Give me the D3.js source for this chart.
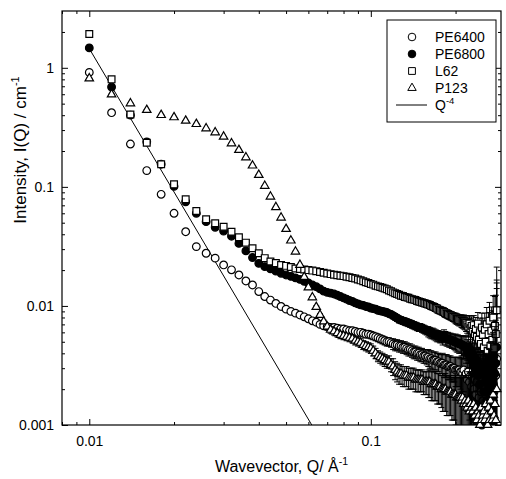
<!DOCTYPE html>
<html>
<head>
<meta charset="utf-8">
<script src="https://cdn.jsdelivr.net/npm/d3@7"></script>
<style>
body{margin:0;background:#fff;}
svg text{font-family:"Liberation Sans", Arial, sans-serif;}
</style>
</head>
<body>
<div id="main"></div>
<script>
const W = 506;
const H = 479;

// wavevector grid, Å^-1 (same for every sample)
var qVals = [
 0.010,0.012,0.014,0.016,0.018,0.020,0.022,0.024,0.026,0.028,
 0.030,0.032,0.034,0.036,0.038,0.040,0.042,0.044,0.046,0.048,
 0.050,0.052,0.054,0.056,0.058,0.060,0.062,0.064,0.066,0.068,
 0.070,0.072,0.074,0.076,0.078,0.080,0.082,0.084,0.086,0.088,
 0.090,0.092,0.094,0.096,0.098,0.100,0.102,0.104,0.106,0.108,
 0.110,0.112,0.114,0.116,0.118,0.120,0.122,0.124,0.126,0.128,
 0.130,0.132,0.134,0.136,0.138,0.140,0.142,0.144,0.146,0.148,
 0.150,0.152,0.154,0.156,0.158,0.160,0.162,0.164,0.166,0.168,
 0.170,0.172,0.174,0.176,0.178,0.180,0.182,0.184,0.186,0.188,
 0.190,0.192,0.194,0.196,0.198,0.200,0.202,0.204,0.206,0.208,
 0.210,0.212,0.214,0.216,0.218,0.220,0.222,0.224,0.226,0.228,
 0.230,0.232,0.234,0.236,0.238,0.240,0.242,0.244,0.246,0.248,
 0.250,0.252,0.254,0.256,0.258,0.260,0.262,0.264,0.266,0.268,
 0.270,0.272,0.274,0.276,0.278,0.280
];

// intensities, cm^-1
var pe6400 = [
 0.915,0.42,0.229,0.137,0.0866,0.060,0.042,0.0315,0.0277,0.0252,
 0.0221,0.0201,0.0182,0.0162,0.0150,0.0132,0.0120,0.0112,0.0105,0.0099,
 0.0094,0.0090,0.0087,0.0084,0.0081,0.0078,0.0075,0.0073,0.0070,0.0068,
 0.0067,0.0066,0.0066,0.0065,0.0064,0.0064,0.0063,0.0062,0.0062,0.0061,
 0.0060,0.0060,0.0059,0.0058,0.0058,0.0057,0.0056,0.0055,0.0054,0.0053,
 0.0052,0.0051,0.0050,0.0050,0.0049,0.0048,0.0047,0.0047,0.0046,0.0046,
 0.0045,0.0045,0.0044,0.0043,0.0043,0.0042,0.0041,0.0041,0.0040,0.0040,
 0.0039,0.0039,0.0038,0.0038,0.0037,0.0037,0.0036,0.0036,0.0035,0.0035,
 0.0035,0.0034,0.0034,0.0033,0.0033,0.0033,0.0032,0.0032,0.0032,0.0031,
 0.0031,0.0031,0.0030,0.0030,0.0030,0.0029,0.0029,0.0029,0.0029,0.0028,
 0.0028,0.0027,0.0029,0.0026,0.0027,0.0024,0.0028,0.0023,0.0026,0.0021,
 0.0025,0.0020,0.0024,0.0018,0.0023,0.0027,0.0017,0.0022,0.0019,0.0025,
 0.0016,0.0021,0.0026,0.0018,0.0023,0.0015,0.0028,0.0020,0.0024,0.0017,
 0.0030,0.0022,0.0019,0.0033,0.0026,0.0036
];

var pe6800 = [
 1.47,0.69,0.40,0.239,0.155,0.101,0.075,0.060,0.051,0.0458,
 0.0425,0.0385,0.0335,0.0290,0.0255,0.0228,0.0214,0.0205,0.0196,0.0188,
 0.0182,0.0177,0.0172,0.0167,0.0161,0.0156,0.0150,0.0145,0.0139,0.0133,
 0.0130,0.0128,0.0126,0.0123,0.0120,0.0117,0.0114,0.0111,0.0109,0.0106,
 0.0104,0.0102,0.0101,0.0099,0.0098,0.0096,0.0095,0.0094,0.0092,0.0091,
 0.0090,0.0089,0.0088,0.0086,0.0085,0.0083,0.0081,0.0079,0.0077,0.0076,
 0.0075,0.0074,0.0073,0.0072,0.0071,0.0070,0.0069,0.0068,0.0067,0.0066,
 0.0066,0.0065,0.0064,0.0063,0.0062,0.0061,0.0060,0.0059,0.0059,0.0058,
 0.0057,0.0056,0.0056,0.0055,0.0055,0.0054,0.0056,0.0054,0.0053,0.0053,
 0.0052,0.0052,0.0051,0.0051,0.0050,0.0050,0.0049,0.0049,0.0048,0.0048,
 0.0047,0.0047,0.0046,0.0046,0.0044,0.0041,0.0045,0.0038,0.0043,0.0036,
 0.0040,0.0033,0.0037,0.0029,0.0035,0.0026,0.0032,0.0022,0.0030,0.0010,
 0.0027,0.0019,0.0031,0.0024,0.0016,0.0028,0.0021,0.0034,0.0018,0.0025,
 0.0030,0.0022,0.0038,0.0027,0.0033,0.0045
];

var l62 = [
 1.92,0.80,0.406,0.235,0.155,0.105,0.0787,0.0628,0.0535,0.0495,
 0.0462,0.0420,0.0377,0.0340,0.0305,0.0277,0.0252,0.0236,0.0229,0.0221,
 0.0217,0.0212,0.0206,0.0204,0.0202,0.0200,0.0198,0.0196,0.0193,0.0190,
 0.0187,0.0185,0.0183,0.0181,0.0179,0.0178,0.0176,0.0174,0.0172,0.0170,
 0.0167,0.0164,0.0161,0.0158,0.0156,0.0153,0.0151,0.0148,0.0146,0.0144,
 0.0142,0.0140,0.0138,0.0135,0.0133,0.0130,0.0128,0.0126,0.0124,0.0122,
 0.0121,0.0119,0.0118,0.0117,0.0115,0.0114,0.0113,0.0112,0.0110,0.0109,
 0.0108,0.0107,0.0106,0.0105,0.0104,0.0103,0.0102,0.0100,0.0099,0.0098,
 0.0096,0.0095,0.0093,0.0092,0.0091,0.0090,0.0089,0.0087,0.0086,0.0085,
 0.0084,0.0083,0.0082,0.0081,0.0080,0.0079,0.0078,0.0077,0.0076,0.0076,
 0.0075,0.0074,0.0074,0.0073,0.0072,0.0070,0.0067,0.0071,0.0065,0.0068,
 0.0062,0.0069,0.0058,0.0064,0.0055,0.0071,0.0052,0.0060,0.0048,0.0066,
 0.0057,0.0045,0.0063,0.0050,0.0070,0.0042,0.0058,0.0075,0.0046,0.0062,
 0.0052,0.0080,0.0044,0.0068,0.0058,0.0092
];

var p123 = [
 0.815,0.598,0.503,0.442,0.401,0.384,0.359,0.337,0.310,0.287,
 0.264,0.232,0.204,0.177,0.151,0.126,0.102,0.0828,0.0675,0.0552,
 0.0443,0.0354,0.0286,0.0221,0.0175,0.0143,0.0118,0.0098,0.0084,0.0074,
 0.0067,0.0063,0.0061,0.0059,0.0057,0.0056,0.0055,0.0054,0.0053,0.0051,
 0.0050,0.0049,0.0047,0.0046,0.0045,0.0044,0.0042,0.0040,0.0038,0.0037,
 0.0036,0.0035,0.0034,0.0034,0.0032,0.0031,0.0029,0.0028,0.0027,0.0027,
 0.0026,0.0026,0.0026,0.0025,0.0025,0.0025,0.0025,0.0024,0.0024,0.0024,
 0.0024,0.0024,0.0023,0.0023,0.0023,0.0023,0.0023,0.0022,0.0022,0.0022,
 0.0022,0.0021,0.0021,0.0021,0.0020,0.0020,0.0020,0.0020,0.0019,0.0019,
 0.0019,0.0019,0.0018,0.0018,0.0018,0.0018,0.0017,0.0017,0.0017,0.0017,
 0.0016,0.0017,0.0015,0.0016,0.0015,0.0014,0.0016,0.0013,0.0015,0.0014,
 0.0013,0.0015,0.0012,0.0014,0.0011,0.0013,0.0012,0.0010,0.0014,0.0011,
 0.0012,0.0013,0.0011,0.0015,0.0012,0.0010,0.0014,0.0011,0.0016,0.0013,
 0.0011,0.0018,0.0012,0.0015,0.0011,0.0020
];

// error bar half-heights (cm^-1), read per Q
var sigma = [
 0.004,0.003,0.002,0.0015,0.001,0.0008,0.0006,0.0005,0.0004,0.0004,
 0.0003,0.0003,0.0003,0.0003,0.0003,0.0003,0.0003,0.0003,0.0003,0.0003,
 0.0002,0.0002,0.0002,0.0002,0.0002,0.0002,0.0002,0.0002,0.0002,0.0002,
 0.0004,0.0004,0.0004,0.0004,0.0004,0.0004,0.0004,0.0004,0.0004,0.0004,
 0.0004,0.0004,0.0004,0.0004,0.0004,0.0004,0.0004,0.0004,0.0004,0.0004,
 0.0004,0.0004,0.0004,0.0004,0.0004,0.0005,0.0005,0.0005,0.0005,0.0005,
 0.0005,0.0005,0.0005,0.0005,0.0005,0.0005,0.0005,0.0005,0.0005,0.0005,
 0.0005,0.0005,0.0005,0.0005,0.0005,0.0006,0.0006,0.0006,0.0006,0.0006,
 0.0006,0.0006,0.0006,0.0006,0.0006,0.0007,0.0007,0.0007,0.0007,0.0007,
 0.0007,0.0007,0.0007,0.0007,0.0007,0.0008,0.0008,0.0008,0.0008,0.0008,
 0.0009,0.0009,0.0010,0.0010,0.0011,0.0011,0.0012,0.0012,0.0013,0.0013,
 0.0014,0.0014,0.0015,0.0016,0.0016,0.0017,0.0018,0.0019,0.0020,0.0021,
 0.0022,0.0023,0.0024,0.0025,0.0027,0.0028,0.0030,0.0032,0.0034,0.0036,
 0.0039,0.0042,0.0046,0.0052,0.0065,0.0120
];

// Q^-4 guide line end points
var lineQ = [0.010, 0.0617];
var lineI = [1.45, 0.001];

var xMajor = [0.01, 0.1];
var xMinor = [0.008, 0.009, 0.02, 0.03, 0.04, 0.05, 0.06, 0.07, 0.08, 0.09, 0.2];
var yMajor = [0.001, 0.01, 0.1, 1];
var yMinor = [0.002,0.003,0.004,0.005,0.006,0.007,0.008,0.009,
              0.02,0.03,0.04,0.05,0.06,0.07,0.08,0.09,
              0.2,0.3,0.4,0.5,0.6,0.7,0.8,0.9, 2];

var seriesNames = ["PE6400", "PE6800", "L62", "P123"];


var ctx = {
    left: 62, right: 501, top: 11, bottom: 425,
    font: "'Liberation Sans', Arial, sans-serif"
};

var x = d3.scaleLog().domain([0.008, 0.29]).range([ctx.left, ctx.right]);
var y = d3.scaleLog().domain([0.001, 3]).range([ctx.bottom, ctx.top]);

var series = [
    {name: seriesNames[0], vals: pe6400, type: d3.symbolCircle,   size: 46, fill: "white"},
    {name: seriesNames[1], vals: pe6800, type: d3.symbolCircle,   size: 46, fill: "black"},
    {name: seriesNames[2], vals: l62,    type: d3.symbolSquare,   size: 46, fill: "white"},
    {name: seriesNames[3], vals: p123,   type: d3.symbolTriangle, size: 31, fill: "white"}
];


var drawAxes = function(svgEl){
    var fmt = function(d){ return String(d); };
    var cleanup = function(g){
        g.select(".domain").remove();
        g.selectAll("line").attr("stroke", "black").attr("stroke-width", 1);
        g.selectAll("text").attr("font-family", ctx.font).attr("font-size", 14).attr("fill", "black");
    };

    // bottom
    svgEl.append("g").attr("transform", "translate(0," + ctx.bottom + ")")
        .call(d3.axisBottom(x).tickValues(xMajor).tickFormat(fmt).tickSizeInner(-6).tickSizeOuter(0).tickPadding(11))
        .call(cleanup);
    svgEl.append("g").attr("transform", "translate(0," + ctx.bottom + ")")
        .call(d3.axisBottom(x).tickValues(xMinor).tickFormat("").tickSizeInner(-3).tickSizeOuter(0))
        .call(cleanup);
    // top
    svgEl.append("g").attr("transform", "translate(0," + ctx.top + ")")
        .call(d3.axisTop(x).tickValues(xMajor).tickFormat("").tickSizeInner(-6).tickSizeOuter(0))
        .call(cleanup);
    svgEl.append("g").attr("transform", "translate(0," + ctx.top + ")")
        .call(d3.axisTop(x).tickValues(xMinor).tickFormat("").tickSizeInner(-3).tickSizeOuter(0))
        .call(cleanup);
    // left
    svgEl.append("g").attr("transform", "translate(" + ctx.left + ",0)")
        .call(d3.axisLeft(y).tickValues(yMajor).tickFormat(fmt).tickSizeInner(-6).tickSizeOuter(0).tickPadding(8))
        .call(cleanup);
    svgEl.append("g").attr("transform", "translate(" + ctx.left + ",0)")
        .call(d3.axisLeft(y).tickValues(yMinor).tickFormat("").tickSizeInner(-3).tickSizeOuter(0))
        .call(cleanup);
    // right
    svgEl.append("g").attr("transform", "translate(" + ctx.right + ",0)")
        .call(d3.axisRight(y).tickValues(yMajor).tickFormat("").tickSizeInner(-6).tickSizeOuter(0))
        .call(cleanup);
    svgEl.append("g").attr("transform", "translate(" + ctx.right + ",0)")
        .call(d3.axisRight(y).tickValues(yMinor).tickFormat("").tickSizeInner(-3).tickSizeOuter(0))
        .call(cleanup);

    svgEl.append("rect")
        .attr("x", ctx.left).attr("y", ctx.top)
        .attr("width", ctx.right - ctx.left).attr("height", ctx.bottom - ctx.top)
        .attr("fill", "none").attr("stroke", "black").attr("stroke-width", 1.2);
};


var drawSeries = function(svgEl, s){
    var pts = qVals.map(function(q, i){ return {q: q, v: s.vals[i], e: sigma[i]}; });
    var g = svgEl.append("g").attr("class", "series");

    g.append("g").attr("clip-path", "url(#clip)")
        .selectAll("path")
        .data(pts)
        .enter()
        .append("path")
        .attr("d", function(d){
            var xx = x(d.q);
            var y1 = y(Math.max(d.v - d.e, 0.0001));
            var y2 = y(d.v + d.e);
            return "M" + xx + "," + y1 + "V" + y2 +
                   "M" + (xx - 3) + "," + y1 + "H" + (xx + 3) +
                   "M" + (xx - 3) + "," + y2 + "H" + (xx + 3);
        })
        .attr("fill", "none")
        .attr("stroke", "black")
        .attr("stroke-width", 1);

    var sym = d3.symbol().type(s.type).size(s.size);
    g.append("g")
        .selectAll("path")
        .data(pts)
        .enter()
        .append("path")
        .attr("d", sym)
        .attr("transform", function(d){ return "translate(" + x(d.q) + "," + y(d.v) + ")"; })
        .attr("fill", s.fill)
        .attr("stroke", "black")
        .attr("stroke-width", 1.2);
};


var drawLegend = function(svgEl){
    var lg = svgEl.append("g").attr("id", "legend");
    lg.append("rect")
        .attr("x", 387).attr("y", 20).attr("width", 109).attr("height", 102)
        .attr("fill", "white").attr("stroke", "black").attr("stroke-width", 1);

    series.forEach(function(s, i){
        var yy = 37 + i * 17;
        lg.append("path")
            .attr("d", d3.symbol().type(s.type).size(s.size)())
            .attr("transform", "translate(412," + yy + ")")
            .attr("fill", s.fill).attr("stroke", "black").attr("stroke-width", 1);
        lg.append("text")
            .attr("x", 435).attr("y", yy + 5)
            .attr("font-family", ctx.font).attr("font-size", 14)
            .text(s.name);
    });

    lg.append("line")
        .attr("x1", 396).attr("x2", 427).attr("y1", 105).attr("y2", 105)
        .attr("stroke", "black").attr("stroke-width", 1);
    var t = lg.append("text")
        .attr("x", 435).attr("y", 110)
        .attr("font-family", ctx.font).attr("font-size", 14);
    t.append("tspan").text("Q");
    t.append("tspan").attr("dy", -6).attr("font-size", 9.5).text("-4");
};


var drawTitles = function(svgEl){
    var xt = svgEl.append("text")
        .attr("x", (ctx.left + ctx.right) / 2).attr("y", 472)
        .attr("text-anchor", "middle")
        .attr("font-family", ctx.font).attr("font-size", 16);
    xt.append("tspan").text("Wavevector, Q/ Å");
    xt.append("tspan").attr("dy", -7).attr("font-size", 10.5).text("-1");

    var yt = svgEl.append("text")
        .attr("transform", "translate(26,150) rotate(-90)")
        .attr("text-anchor", "middle")
        .attr("font-family", ctx.font).attr("font-size", 17);
    yt.append("tspan").text("Intensity, I(Q) / cm");
    yt.append("tspan").attr("dy", -7).attr("font-size", 11).text("-1");
};


var createViz = function(){
    var svgEl = d3.select("#main").append("svg")
        .attr("width", W).attr("height", H);

    svgEl.append("rect").attr("width", W).attr("height", H).attr("fill", "white");

    svgEl.append("defs").append("clipPath").attr("id", "clip")
        .append("rect")
        .attr("x", ctx.left).attr("y", ctx.top)
        .attr("width", ctx.right - ctx.left).attr("height", ctx.bottom - ctx.top);

    drawAxes(svgEl);

    // Q^-4 line
    var lineData = lineQ.map(function(q, i){ return [q, lineI[i]]; });
    svgEl.append("path")
        .datum(lineData)
        .attr("clip-path", "url(#clip)")
        .attr("d", d3.line().x(function(d){ return x(d[0]); }).y(function(d){ return y(d[1]); }))
        .attr("fill", "none").attr("stroke", "black").attr("stroke-width", 1);

    series.forEach(function(s){ drawSeries(svgEl, s); });

    drawLegend(svgEl);
    drawTitles(svgEl);
};

createViz();
</script>
</body>
</html>
